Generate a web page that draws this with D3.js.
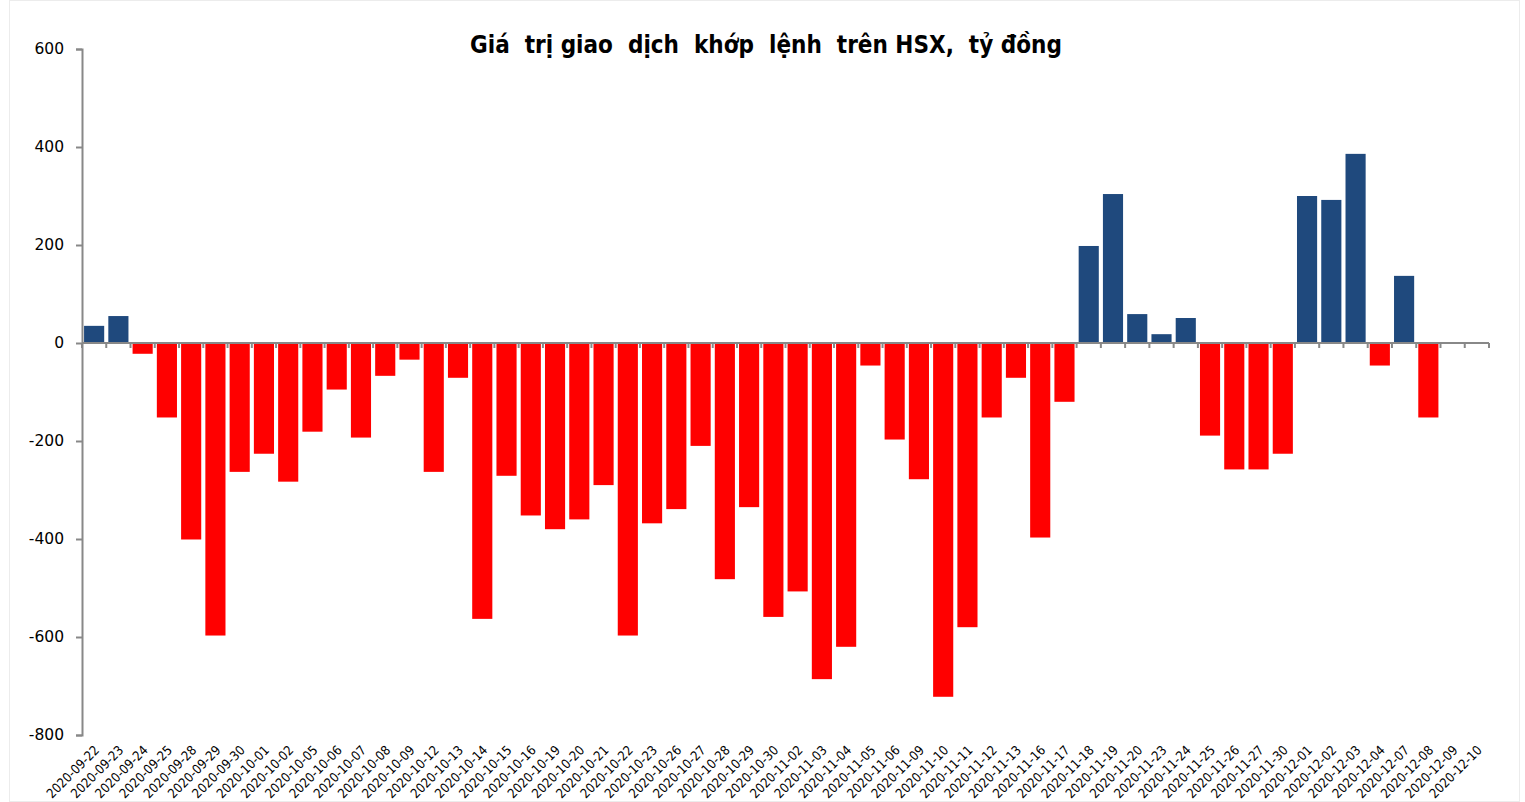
<!DOCTYPE html>
<html>
<head>
<meta charset="utf-8">
<script src="https://cdn.jsdelivr.net/npm/d3@7"></script>
<style>
  body { margin: 0; background: #fff; }
  svg { display: block; }
</style>
</head>
<body>
<svg id="chart" width="1525" height="802"></svg>
<script>
const dates = [
  "2020-09-22", "2020-09-23", "2020-09-24", "2020-09-25", "2020-09-28", "2020-09-29", "2020-09-30",
  "2020-10-01", "2020-10-02", "2020-10-05", "2020-10-06", "2020-10-07", "2020-10-08", "2020-10-09",
  "2020-10-12", "2020-10-13", "2020-10-14", "2020-10-15", "2020-10-16", "2020-10-19", "2020-10-20",
  "2020-10-21", "2020-10-22", "2020-10-23", "2020-10-26", "2020-10-27", "2020-10-28", "2020-10-29",
  "2020-10-30", "2020-11-02", "2020-11-03", "2020-11-04", "2020-11-05", "2020-11-06", "2020-11-09",
  "2020-11-10", "2020-11-11", "2020-11-12", "2020-11-13", "2020-11-16", "2020-11-17", "2020-11-18",
  "2020-11-19", "2020-11-20", "2020-11-23", "2020-11-24", "2020-11-25", "2020-11-26", "2020-11-27",
  "2020-11-30", "2020-12-01", "2020-12-02", "2020-12-03", "2020-12-04", "2020-12-07", "2020-12-08",
  "2020-12-09", "2020-12-10"
];

// net matched value, billion VND
const values = [
  35, 55, -22, -152, -401, -597, -263,
  -226, -283, -181, -95, -193, -67, -34,
  -263, -71, -563, -271, -352, -380, -360,
  -290, -597, -368, -339, -210, -482, -335,
  -559, -507, -686, -620, -46, -197, -278,
  -722, -580, -152, -71, -397, -120, 198,
  304, 59, 18, 51, -189, -258, -258,
  -226, 300, 292, 386, -46, 137, -152,
  0, 0
];

const yTicks = [600, 400, 200, 0, -200, -400, -600, -800];
const title = "Giá  trị giao  dịch  khớp  lệnh  trên HSX,  tỷ đồng";

const svg = d3.select("#chart");
const plotLeft = 82, plotRight = 1489, plotTop = 49, plotBottom = 735;

// faint outer frame
svg.append("rect")
  .attr("x", 9.5).attr("y", 0.5)
  .attr("width", 1510).attr("height", 801)
  .attr("fill", "none")
  .attr("stroke", "#ececec");

const x = d3.scaleBand()
  .domain(dates)
  .range([plotLeft, plotRight])
  .paddingInner(0.17)
  .paddingOuter(0.085);

const y = d3.scaleLinear()
  .domain([-800, 600])
  .range([plotBottom, plotTop]);

// bars
svg.append("g")
  .selectAll("rect")
  .data(dates.map((d, i) => ({ date: d, value: values[i] })))
  .enter()
  .append("rect")
  .attr("x", d => x(d.date))
  .attr("width", x.bandwidth())
  .attr("y", d => y(Math.max(0, d.value)))
  .attr("height", d => Math.abs(y(d.value) - y(0)))
  .attr("fill", d => d.value >= 0 ? "#1f497d" : "#ff0000");

// y axis
const yAxis = svg.append("g")
  .attr("transform", `translate(${plotLeft},0)`)
  .call(d3.axisLeft(y).tickValues(yTicks).tickSize(6).tickPadding(12).tickFormat(d => String(d)));
yAxis.select(".domain").attr("stroke", "#888").attr("stroke-width", 2);
yAxis.selectAll(".tick line").attr("stroke", "#888").attr("stroke-width", 2);
yAxis.selectAll("text")
  .attr("font-family", "'DejaVu Sans', sans-serif")
  .attr("font-size", 15.5)
  .attr("fill", "#000");

// x axis along zero line, ticks at category boundaries
const zeroY = y(0);
svg.append("line")
  .attr("x1", plotLeft).attr("x2", plotRight)
  .attr("y1", zeroY).attr("y2", zeroY)
  .attr("stroke", "#888").attr("stroke-width", 2);

const step = x.step();
svg.append("g")
  .selectAll("line")
  .data(d3.range(dates.length + 1))
  .enter()
  .append("line")
  .attr("x1", i => plotLeft + i * step)
  .attr("x2", i => plotLeft + i * step)
  .attr("y1", zeroY)
  .attr("y2", zeroY + 5)
  .attr("stroke", "#888")
  .attr("stroke-width", 2);

// date labels at the bottom
svg.append("g")
  .selectAll("text")
  .data(dates)
  .enter()
  .append("text")
  .attr("transform", d => `translate(${x(d) + x.bandwidth() / 2 + 6},${plotBottom + 16}) rotate(-45)`)
  .attr("text-anchor", "end")
  .attr("font-family", "'DejaVu Sans Condensed', 'DejaVu Sans', sans-serif")
  .attr("font-size", 13)
  .attr("fill", "#000")
  .text(d => d);

// title
svg.append("text")
  .attr("x", 766)
  .attr("y", 53)
  .attr("text-anchor", "middle")
  .attr("font-family", "'DejaVu Sans Condensed', 'DejaVu Sans', sans-serif")
  .attr("font-weight", "bold")
  .attr("font-size", 24)
  .attr("fill", "#000")
  .attr("xml:space", "preserve")
  .style("white-space", "pre")
  .text(title);
</script>
</body>
</html>
